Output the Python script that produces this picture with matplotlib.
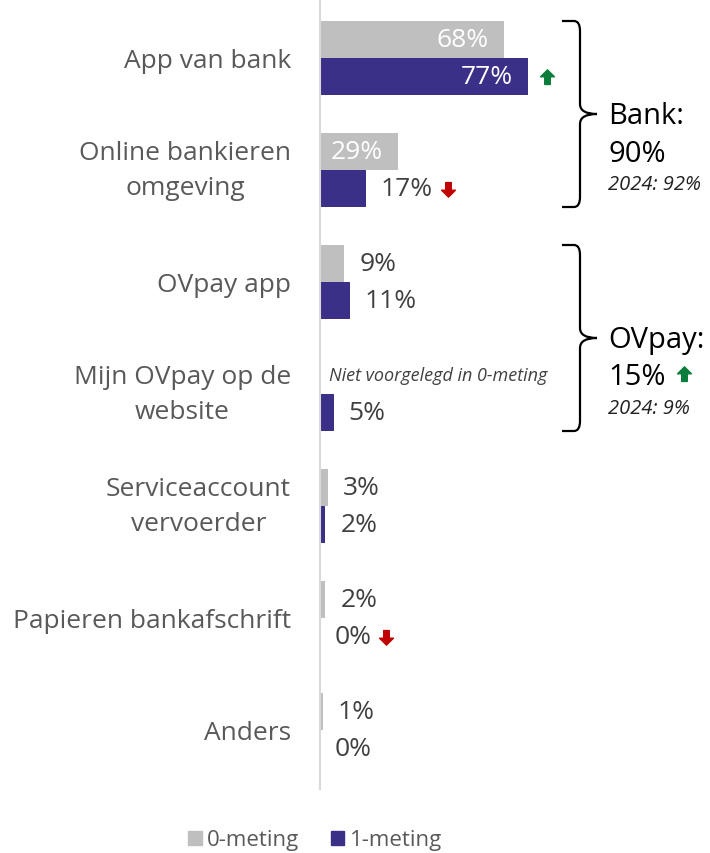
import matplotlib
matplotlib.use("Agg")
import matplotlib.pyplot as plt
from matplotlib.path import Path
from matplotlib.patches import PathPatch, Patch
from matplotlib.transforms import offset_copy

plt.rcParams["font.family"] = ["Open Sans", "DejaVu Sans"]

GREY = "#bfbfbf"
NAVY = "#3a3088"
GREEN = "#0a7d3b"
RED = "#c00000"
LABEL = "#595959"
VALUE = "#404040"

CATEGORIES = ["App van bank", "Online bankieren\nomgeving", "OVpay app",
              "Mijn OVpay op de\nwebsite", "Serviceaccount\nvervoerder",
              "Papieren bankafschrift", "Anders"]
METING_0 = [68, 29, 9, None, 3, 2, 1]   # None = niet voorgelegd
METING_1 = [77, 17, 11, 5, 2, 0, 0]
INSIDE_0 = [True, True, False, False, False, False, False]  # label wit in de balk
INSIDE_1 = [True, False, False, False, False, False, False]

# (rij, richting, kleur, px-afstand vanaf balkeinde)
ARROWS = [(0, "up", GREEN, 19), (1, "down", RED, 82), (5, "down", RED, 66)]

GROUPS = [("Bank:", "90%", "2024: 92%", 0, 1, None),
          ("OVpay:", "15%", "2024: 9%", 2, 3, "up")]

W, H = 710, 854
PX_PER_PCT = 2.7
ROW_PX = 112
BAR_H = 37 / ROW_PX
VAL_FS = 19

fig = plt.figure(figsize=(W / 100, H / 100), dpi=100)
ax = fig.add_axes([320 / W, 1 - 790 / H, 390 / W, 790 / H])
ax.set_xlim(0, 390 / PX_PER_PCT)
top = -59 / ROW_PX
ax.set_ylim(top + 790 / ROW_PX, top)

rows = list(range(len(CATEGORIES)))


def arrow_path(direction):
    s = 1 if direction == "up" else -1
    verts = [(-0.5, 0.05 * s), (0, 0.55 * s), (0.5, 0.05 * s), (0.2, 0.05 * s),
             (0.2, -0.5 * s), (-0.2, -0.5 * s), (-0.2, 0.05 * s), (-0.5, 0.05 * s)]
    codes = [Path.MOVETO] + [Path.LINETO] * 6 + [Path.CLOSEPOLY]
    return Path(verts, codes)


def value_label(v, y, inside):
    if inside:
        ax.text(v, y, f"{v}%", transform=offset_copy(ax.transData, fig, x=-15, units="dots"),
                ha="right", va="center", color="white", fontsize=VAL_FS)
    else:
        ax.text(v, y, f"{v}%", transform=offset_copy(ax.transData, fig, x=15, units="dots"),
                ha="left", va="center", color=VALUE, fontsize=VAL_FS)


for i in rows:
    v0, v1 = METING_0[i], METING_1[i]
    y0, y1 = i - BAR_H / 2, i + BAR_H / 2
    if v0 is not None:
        ax.barh(y0, v0, height=BAR_H, color=GREY, zorder=2)
        value_label(v0, y0, INSIDE_0[i])
    else:
        ax.text(0, y0, "Niet voorgelegd in 0-meting",
                transform=offset_copy(ax.transData, fig, x=9, units="dots"),
                ha="left", va="center", color=VALUE, fontsize=13, style="italic")
    ax.barh(y1, v1, height=BAR_H, color=NAVY, zorder=2)
    value_label(v1, y1, INSIDE_1[i])

for row, direction, colour, dx in ARROWS:
    ax.plot(METING_1[row], row + BAR_H / 2, marker=arrow_path(direction), markersize=11,
            color=colour, transform=offset_copy(ax.transData, fig, x=dx, units="dots"),
            clip_on=False, zorder=4)


def brace(ax, ya, yb):
    x0, xv, xt = 242 / PX_PER_PCT, 260 / PX_PER_PCT, 277 / PX_PER_PCT
    rx, ry = 6 / PX_PER_PCT, 10 / ROW_PX
    ym = (ya + yb) / 2
    verts = [(x0, ya), (xv - rx, ya), (xv, ya), (xv, ya + ry),
             (xv, ym - ry), (xv, ym), (xt, ym), (xv, ym), (xv, ym + ry),
             (xv, yb - ry), (xv, yb), (xv - rx, yb), (x0, yb)]
    codes = [Path.MOVETO, Path.LINETO, Path.CURVE3, Path.CURVE3,
             Path.LINETO, Path.CURVE3, Path.CURVE3, Path.CURVE3, Path.CURVE3,
             Path.LINETO, Path.CURVE3, Path.CURVE3, Path.LINETO]
    ax.add_patch(PathPatch(Path(verts, codes), fill=False, lw=1.6, color="black",
                           clip_on=False, zorder=3))
    return ym


tx = 288 / PX_PER_PCT
for name, total, prev, r0, r1, trend in GROUPS:
    ym = brace(ax, r0 - BAR_H, r1 + BAR_H)
    ax.annotate(name, (tx, ym), xytext=(0, -2), textcoords="offset pixels",
                ha="left", va="center", fontsize=21, color="black", annotation_clip=False)
    ax.annotate(total, (tx, ym), xytext=(0, -39), textcoords="offset pixels",
                ha="left", va="center", fontsize=21, color="black", annotation_clip=False)
    ax.annotate(prev, (tx, ym), xytext=(0, -70), textcoords="offset pixels",
                ha="left", va="center", fontsize=14.5, style="italic", color="#222222",
                annotation_clip=False)
    if trend:
        ax.plot(tx, ym, marker=arrow_path(trend), markersize=11, color=GREEN,
                transform=offset_copy(ax.transData, fig, x=76, y=-36, units="dots"),
                clip_on=False, zorder=4)

ax.set_yticks(rows)
ax.set_yticklabels(CATEGORIES, fontsize=19, color=LABEL)
for lbl in ax.get_yticklabels():
    lbl.set_multialignment("center")
    lbl.set_linespacing(1.55)
    if "\n" in lbl.get_text():
        lbl.set_verticalalignment("center")
ax.tick_params(axis="y", length=0, pad=21)
ax.set_xticks([])
for s in ("top", "right", "bottom"):
    ax.spines[s].set_visible(False)
ax.spines["left"].set_color("#d9d9d9")
ax.spines["left"].set_linewidth(1.5)

handles = [Patch(color=GREY, label="0-meting"), Patch(color=NAVY, label="1-meting")]
fig.legend(handles=handles, loc="center", bbox_to_anchor=(315 / W, 1 - 841 / H), ncol=2,
           frameon=False, fontsize=16, handlelength=0.6, handleheight=0.6,
           handletextpad=0.25, columnspacing=1.4, labelcolor=LABEL)

fig.savefig("out.png", dpi=100)
